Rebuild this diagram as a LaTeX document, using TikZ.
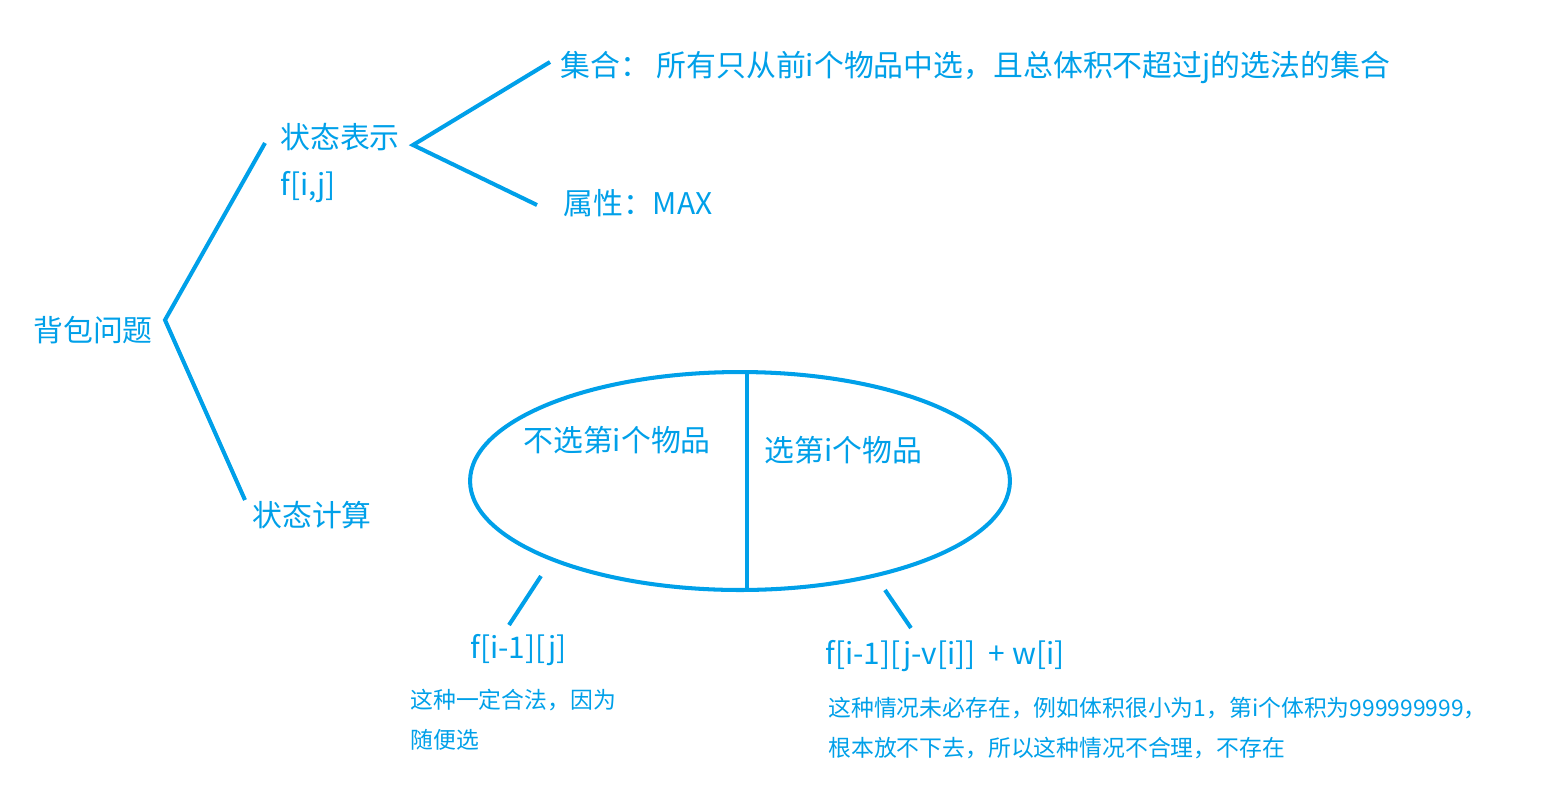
\documentclass[tikz,border=0pt]{standalone}
\usepackage{fontspec}
\setmainfont{Noto Sans CJK SC}
\usepackage{xcolor}
\usetikzlibrary{positioning,shapes.geometric,calc}
\definecolor{inkblue}{HTML}{00A0E9}

\begin{document}
\begin{tikzpicture}[
    x=0.02cm, y=-0.02cm,
    label/.style={
        anchor=west,
        inner sep=0pt,
        text=inkblue,
        font=\fontsize{17}{20}\selectfont
    },
    note/.style={
        anchor=west,
        inner sep=0pt,
        text=inkblue,
        font=\fontsize{13}{16}\selectfont
    },
    branch/.style={
        draw=inkblue,
        line width=2.3pt
    }
]

\useasboundingbox (0,0) rectangle (1559,796);

\node[label] (bag) at (33,330) {背包问题};
\node[label] (rep) at (280,137) {状态表示};
\node[label] (fij) at (280,187) {f[i,j]};
\node[label] (set) at (560,67) {集合：\ 所有只从前i个物品中选，且总体积不超过j的选法的集合};
\node[label] (attr) at (563,203) {属性：MAX};
\node[label] (calc) at (252,515) {状态计算};

\node[ellipse, draw=inkblue, line width=2.3pt, minimum width=10.8cm, minimum height=4.36cm, inner sep=0pt] (choice) at (740,481) {};
\node[label] (skip) at (523,440) {不选第i个物品};
\node[label] (take) at (764,450) {选第i个物品};

\node[label] (fskip) at (470,650) {f[i-1][j]};
\node[note] (nskip1) at (410,700) {这种一定合法，因为};
\node[note] (nskip2) at (410,740) {随便选};
\node[label] (ftake) at (825,656) {f[i-1][j-v[i]]\ \ + w[i]};
\node[note] (ntake1) at (828,708) {这种情况未必存在，例如体积很小为1，第i个体积为999999999，};
\node[note] (ntake2) at (828,748) {根本放不下去，所以这种情况不合理，不存在};

\coordinate (root) at (165,320);
\coordinate (repend) at (265,143);
\coordinate (calcend) at (245,500);
\coordinate (fork) at (413,145);
\coordinate (setend) at (550,62);
\coordinate (attrend) at (537,205);
\coordinate (splittop) at (747,372);
\coordinate (splitbot) at (747,590);
\coordinate (skiptop) at (541,576);
\coordinate (skipbot) at (509,625);
\coordinate (taketop) at (885,590);
\coordinate (takebot) at (911,628);

\draw[branch] (repend) -- (root) -- (calcend);
\draw[branch] (setend) -- (fork) -- (attrend);
\draw[branch] (splittop) -- (splitbot);
\draw[branch] (skiptop) -- (skipbot);
\draw[branch] (taketop) -- (takebot);

\end{tikzpicture}
\end{document}
